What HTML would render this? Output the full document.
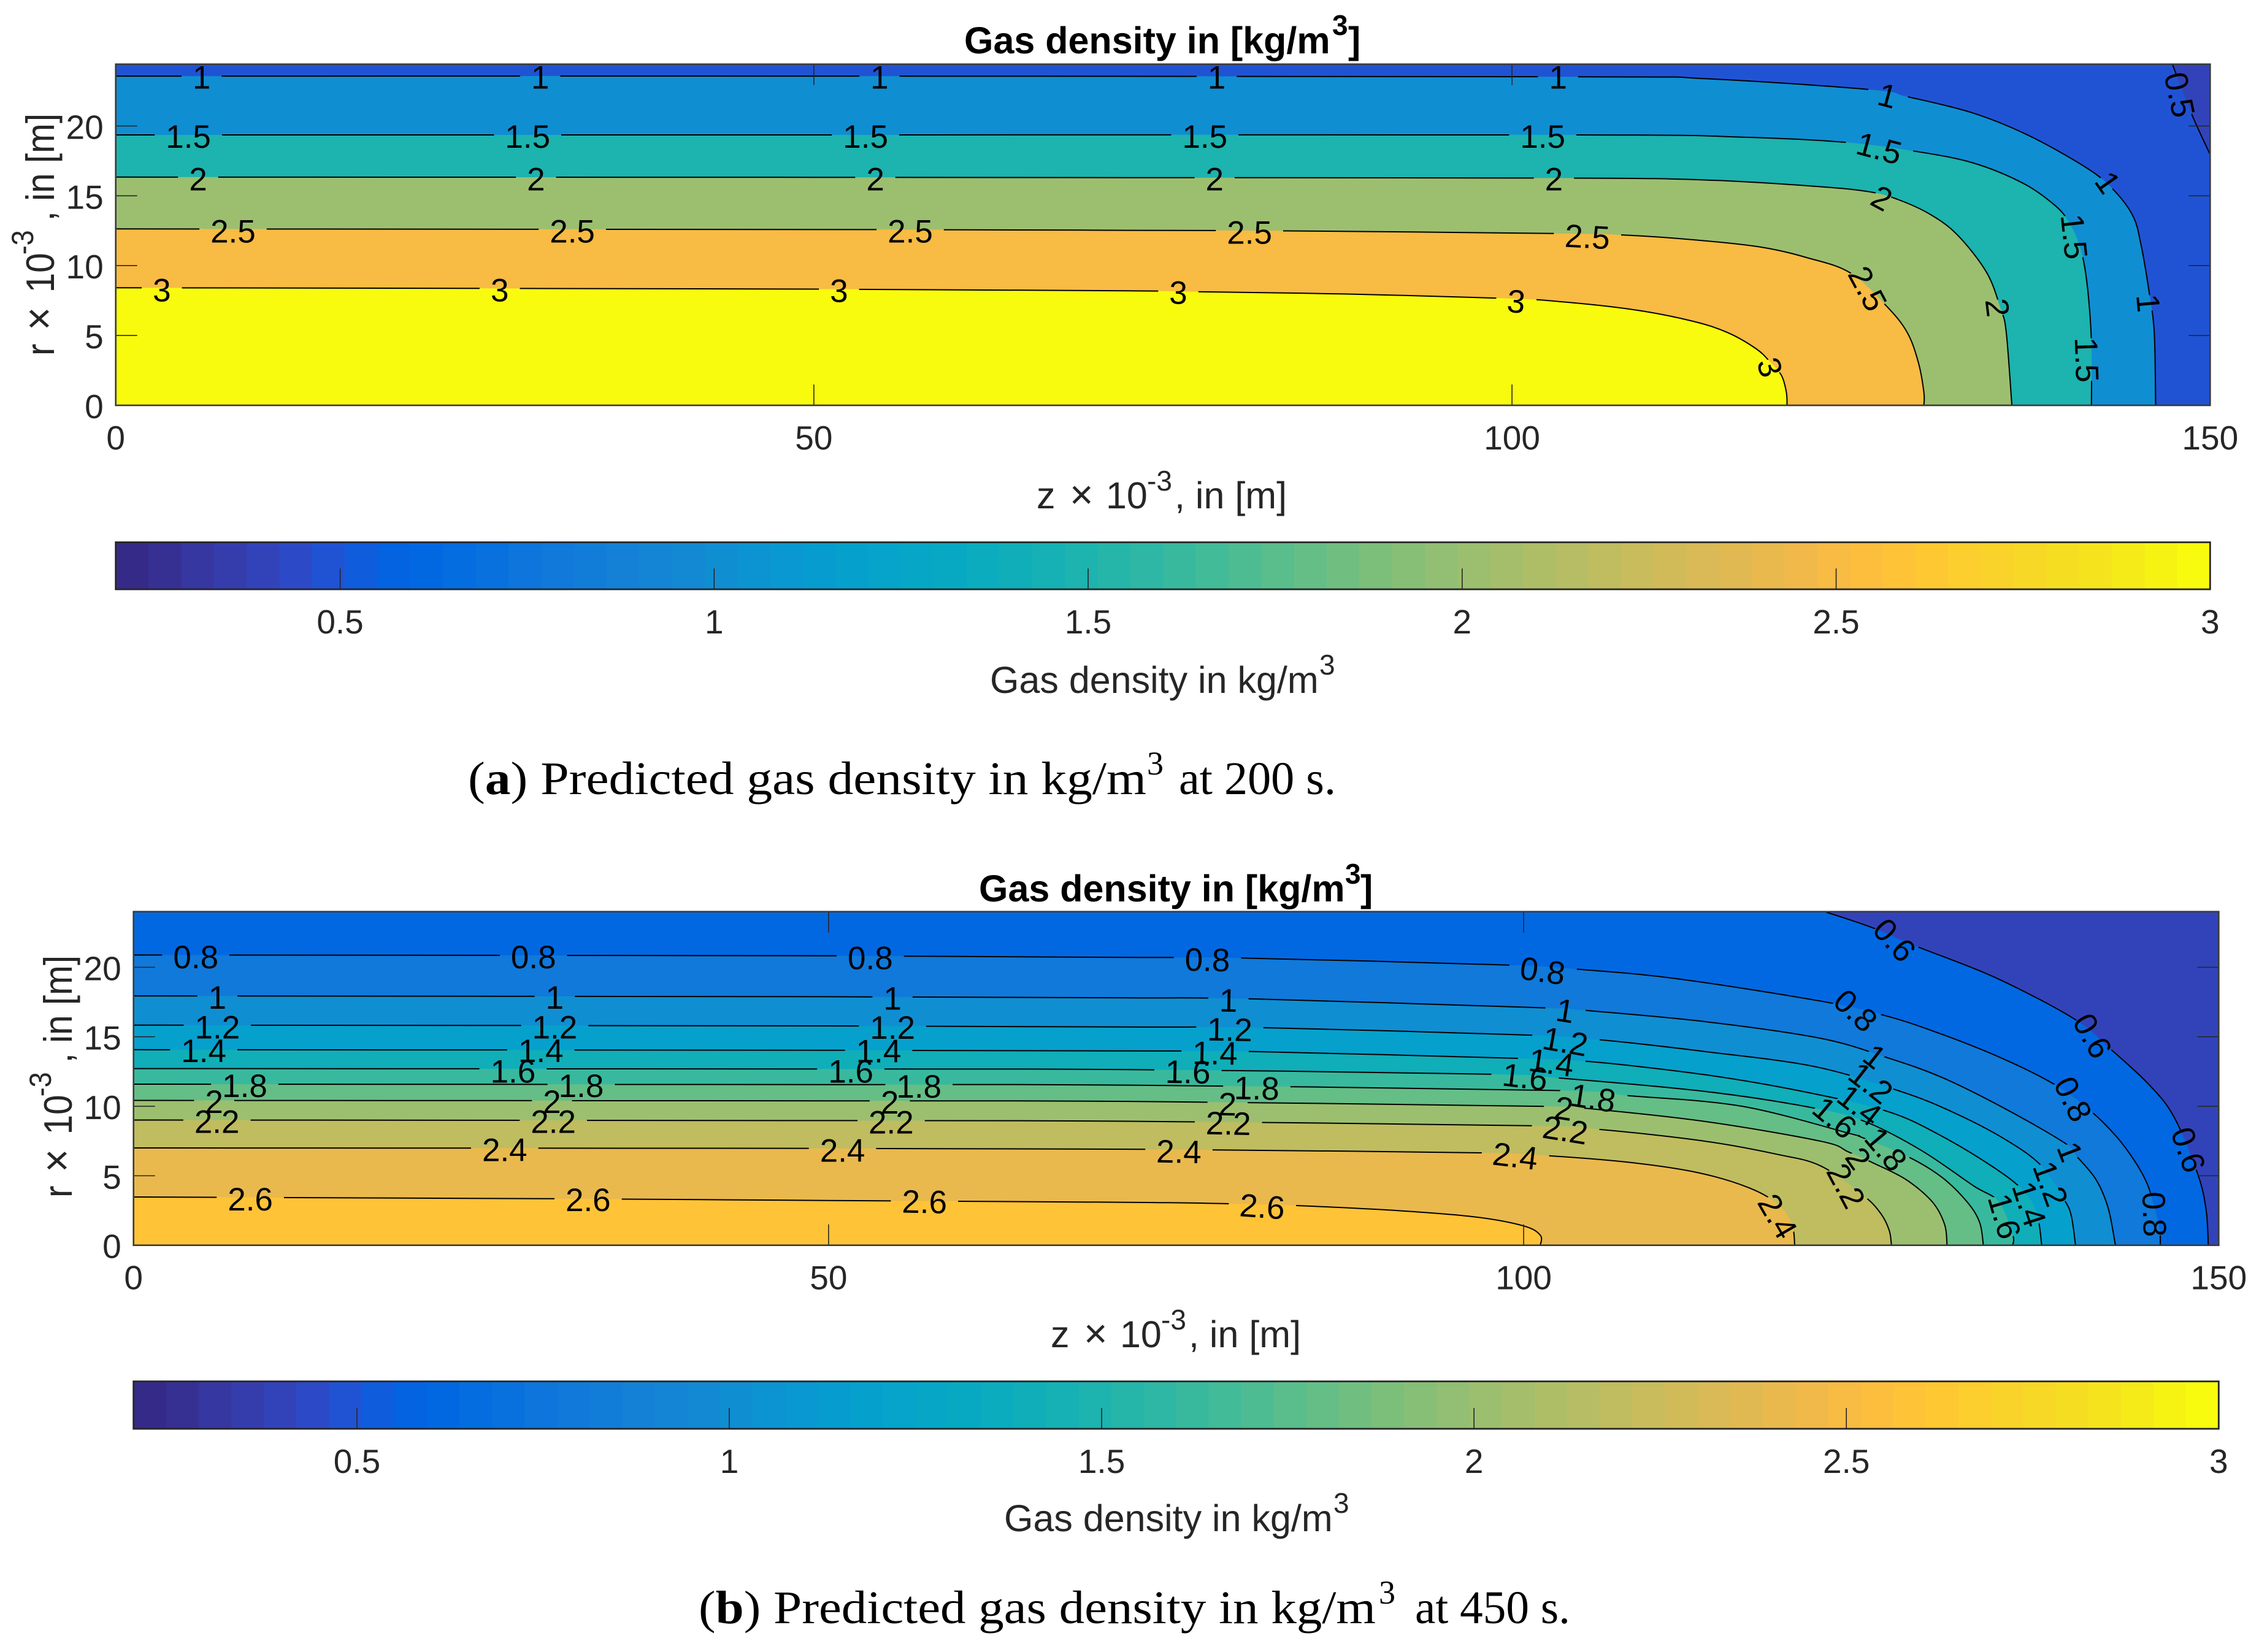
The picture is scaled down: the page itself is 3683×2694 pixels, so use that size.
<!DOCTYPE html>
<html lang="en">
<head>
<meta charset="utf-8">
<title>Gas density contour plots</title>
<style>
html,body{margin:0;padding:0;background:#fff;}
svg{display:block;}
text{font-family:"Liberation Sans",sans-serif;}
.tick{font-size:55px;fill:#262626;}
.lab{font-size:61px;fill:#262626;}
.sup{font-size:46px;fill:#262626;}
.ttl{font-size:61px;font-weight:bold;fill:#000;}
.cap{font-family:"Liberation Serif",serif;font-size:76px;fill:#000;}
.capsup{font-family:"Liberation Serif",serif;font-size:54px;fill:#000;}
.clab{font-size:53px;fill:#000;}
</style>
</head>
<body>
<svg id="fig" xmlns="http://www.w3.org/2000/svg" width="3683" height="2694" viewBox="0 0 3683 2694">
<rect x="0" y="0" width="3683" height="2694" fill="#fff"/>
<defs id="defs"></defs>

<text class="ttl" x="1572" y="87">Gas density in [kg/m<tspan x="2172" y="57" font-size="46">3</tspan><tspan x="2198" y="87">]</tspan></text>
<text class="lab" y="829"><tspan x="1690">z</tspan><tspan x="1744" font-size="66" font-weight="normal">×</tspan><tspan x="1803">10</tspan><tspan x="1870" y="800" font-size="46">-3</tspan><tspan x="1915" y="829">, in [m]</tspan></text>
<g transform="translate(88,580) rotate(-90) scale(.9,1)" fill="#262626" font-size="65">
<text x="0" y="0">r</text><text x="46" y="0" font-size="72">×</text><text x="114" y="0">10</text><text x="183" y="-34" font-size="50">-3</text><text x="244" y="0">, in [m]</text>
</g>
<text class="lab" x="1614" y="1130">Gas density in kg/m<tspan x="2151" y="1100" font-size="46">3</tspan></text>
<text class="cap" x="763" y="1295" textLength="1106" lengthAdjust="spacingAndGlyphs">(<tspan font-weight="bold">a</tspan>) Predicted gas density in kg/m</text>
<text class="capsup" x="1870" y="1263">3</text>
<text class="cap" x="1922" y="1295" textLength="256" lengthAdjust="spacingAndGlyphs">at 200 s.</text>

<text class="ttl" x="1596" y="1470">Gas density in [kg/m<tspan x="2193" y="1441" font-size="46">3</tspan><tspan x="2218" y="1470">]</tspan></text>
<text class="lab" y="2197"><tspan x="1713">z</tspan><tspan x="1767" font-size="66">×</tspan><tspan x="1826">10</tspan><tspan x="1893" y="2168" font-size="46">-3</tspan><tspan x="1938" y="2197">, in [m]</tspan></text>
<g transform="translate(117,1953) rotate(-90) scale(.9,1)" fill="#262626" font-size="65">
<text x="0" y="0">r</text><text x="46" y="0" font-size="72">×</text><text x="114" y="0">10</text><text x="183" y="-34" font-size="50">-3</text><text x="244" y="0">, in [m]</text>
</g>
<text class="lab" x="1637" y="2497">Gas density in kg/m<tspan x="2174" y="2467" font-size="46">3</tspan></text>
<text class="cap" x="1139" y="2647" textLength="1104" lengthAdjust="spacingAndGlyphs">(<tspan font-weight="bold">b</tspan>) Predicted gas density in kg/m</text>
<text class="capsup" x="2248" y="2615">3</text>
<text class="cap" x="2307" y="2647" textLength="253" lengthAdjust="spacingAndGlyphs">at 450 s.</text>
</svg>

<script>
// ---------- shared data ----------
const xTicks = [0, 50, 100, 150];
const yTicks = [0, 5, 10, 15, 20];
const cbTicks = [0.5, 1, 1.5, 2, 2.5, 3];
const cbMin = 0.2;
const cbMax = 3;
const parula64 = [[0.2081,0.1663,0.5292],[0.2116,0.1898,0.5777],[0.2123,0.2138,0.6270],[0.2081,0.2386,0.6771],[0.1959,0.2645,0.7279],[0.1707,0.2919,0.7792],[0.1253,0.3242,0.8303],[0.0591,0.3598,0.8683],[0.0117,0.3875,0.8820],[0.0060,0.4086,0.8828],[0.0165,0.4266,0.8786],[0.0329,0.4430,0.8720],[0.0498,0.4586,0.8641],[0.0629,0.4737,0.8554],[0.0723,0.4887,0.8467],[0.0779,0.5040,0.8384],[0.0793,0.5200,0.8312],[0.0749,0.5375,0.8263],[0.0641,0.5570,0.8240],[0.0488,0.5772,0.8228],[0.0343,0.5966,0.8199],[0.0265,0.6137,0.8135],[0.0239,0.6287,0.8038],[0.0231,0.6418,0.7913],[0.0228,0.6535,0.7768],[0.0267,0.6642,0.7607],[0.0384,0.6743,0.7436],[0.0590,0.6838,0.7254],[0.0843,0.6928,0.7062],[0.1133,0.7015,0.6859],[0.1453,0.7098,0.6646],[0.1801,0.7177,0.6424],[0.2178,0.7250,0.6193],[0.2586,0.7317,0.5954],[0.3022,0.7376,0.5712],[0.3482,0.7424,0.5473],[0.3953,0.7459,0.5244],[0.4420,0.7481,0.5033],[0.4871,0.7491,0.4840],[0.5300,0.7491,0.4661],[0.5709,0.7485,0.4494],[0.6099,0.7473,0.4337],[0.6473,0.7456,0.4188],[0.6834,0.7435,0.4044],[0.7184,0.7411,0.3905],[0.7525,0.7384,0.3768],[0.7858,0.7356,0.3633],[0.8185,0.7327,0.3498],[0.8507,0.7299,0.3360],[0.8824,0.7274,0.3217],[0.9139,0.7258,0.3063],[0.9450,0.7261,0.2886],[0.9739,0.7314,0.2666],[0.9938,0.7455,0.2403],[0.9990,0.7653,0.2164],[0.9955,0.7861,0.1967],[0.9880,0.8066,0.1794],[0.9789,0.8271,0.1633],[0.9697,0.8481,0.1475],[0.9626,0.8705,0.1309],[0.9589,0.8949,0.1132],[0.9598,0.9218,0.0948],[0.9661,0.9514,0.0755],[0.9763,0.9831,0.0538]];

// ---------- panel (a), t = 200 s: contour vertices as [z, r] ----------
const baseLevelA = 0.4;
const levelsA = [0.5, 1, 1.5, 2, 2.5, 3];
const contourA05 = [[147.3,24.42],[148.7,20.8],[150,17.96]];
const contourA10 = [[0,23.57],[50,23.57],[104.6,23.52],[113.9,23.38],[125.7,22.6],[128.3,22.1],[133,20.93],[137.1,19.27],[141.3,16.9],[143.2,15.3],[144.5,13.5],[145.05,11.5],[145.6,8.33],[146,5.23],[146.1,0]];
const contourA15 = [[0,19.36],[50,19.36],[104.8,19.36],[116.4,19.2],[123.7,18.84],[128.8,18.2],[133,17.36],[136.6,15.9],[138.9,14.3],[139.9,13.1],[140.6,11.6],[141,10],[141.3,7.6],[141.5,4.5],[141.5,0]];
const contourA20 = [[0,16.34],[50,16.32],[72.5,16.3],[104,16.27],[113.9,16.13],[122.1,15.65],[125.7,15.27],[127.6,14.75],[129.9,13.7],[131.9,12.2],[134,9.5],[135,6.9],[135.4,5.23],[135.8,0]];
const contourA25 = [[0,12.63],[54.4,12.58],[72.55,12.53],[83.9,12.49],[103,12.3],[108.2,12.18],[113.9,11.77],[118,11.3],[121.1,10.58],[124.2,9.5],[126.8,7.13],[128.3,5.23],[129.1,3.09],[129.5,0.95],[129.5,0]];
const contourA30 = [[0,8.42],[50.5,8.32],[72.55,8.2],[77.5,8.13],[88,7.97],[99.4,7.66],[103.5,7.42],[108.7,6.85],[112.8,6.06],[115.4,5.23],[117.5,4.04],[118.5,3.09],[119.3,2.14],[119.65,0.95],[119.7,0]];
const contoursA = [contourA05, contourA10, contourA15, contourA20, contourA25, contourA30];
// clabel entries: [text, z, r, rotation]
const labelsA = [
["1",6.15,23.5,0],["1",30.4,23.5,0],["1",54.7,23.5,0],["1",78.85,23.5,0],["1",103.3,23.5,0],
["1.5",5.2,19.27,0],["1.5",29.5,19.27,0],["1.5",53.7,19.27,0],["1.5",78,19.27,0],["1.5",102.2,19.27,0],
["2",5.9,16.22,0],["2",30.1,16.22,0],["2",54.4,16.22,0],["2",78.7,16.22,0],["2",103,16.22,0],
["2.5",8.4,12.49,0],["2.5",32.7,12.49,0],["2.5",56.9,12.49,0],["2.5",81.2,12.4,0],["2.5",105.4,12.1,3],
["3",3.3,8.27,0],["3",27.5,8.27,0],["3",51.8,8.23,0],["3",76.1,8.1,1],["3",100.3,7.47,5],
["1",126.9,22.2,15],["1.5",126.3,18.43,15],["2",126.5,14.86,28],["2.5",125.5,8.37,62],["3",118.5,2.73,72],
["2",134.8,7,83],["1.5",140.3,12.08,84],["1.5",141.2,3.26,88],["1",142.7,15.98,55],["1",145.6,7.32,85],["0.5",147.85,22.24,78]
];

// ---------- panel (b), t = 450 s ----------
const baseLevelB = 0.4;
const levelsB = [0.6, 0.8, 1, 1.2, 1.4, 1.6, 1.8, 2, 2.2, 2.4, 2.6];
const contourB06 = [[121.66,24],[125,22.88],[128.4,21.45],[133.84,19.3],[139.55,16.32],[142.2,14.13],[145,11.54],[146.8,9.2],[148.5,5.1],[149.1,2.5],[149.25,0]];
const contourB08 = [[0,20.88],[50,20.83],[71.6,20.71],[79.9,20.66],[98.83,20.16],[104,19.85],[111,19.18],[121.4,17.56],[126.16,16.48],[130.14,15.16],[134.55,13.39],[138.2,11.56],[140.8,9.65],[142.64,7.82],[143.96,6.05],[144.85,4.44],[145.3,3],[145.75,1.2],[145.8,0]];
const contourB10 = [[0,17.94],[50,17.88],[71.6,17.8],[80.2,17.73],[100.9,17.1],[104.3,16.91],[113.1,16.08],[121.4,14.88],[126.24,13.47],[130.1,12.07],[134.55,9.87],[138.9,7.37],[139.77,6.42],[141.17,4.73],[142.05,2.68],[142.57,0]];
const contourB12 = [[0,15.84],[50,15.78],[71.6,15.7],[81.45,15.65],[100.4,15.12],[105.6,14.77],[113.1,13.93],[120.9,12.86],[127.12,11.07],[130.87,9.58],[134.55,7.67],[137.2,5.76],[138.9,3.26],[139.4,2.09],[139.7,0]];
const contourB14 = [[0,14.07],[50,14.03],[71.6,13.98],[80.9,13.93],[99.35,13.45],[104.8,13.21],[113.1,12.26],[120.1,11.06],[126.24,9.61],[130.13,7.82],[133.8,5.61],[135.87,4],[136.9,2.38],[137.27,0]];
const contourB16 = [[0,12.71],[50,12.68],[71.6,12.64],[97.5,12.31],[102.7,12.02],[113.1,11.06],[120.9,9.87],[124.7,8.84],[128.66,6.79],[132.34,4.29],[134.18,3.12],[135.18,0.77],[135.18,0]];
const contourB18 = [[0,11.59],[50,11.56],[71.6,11.52],[102.2,11.14],[107.65,10.75],[115.7,10],[123.5,8.03],[124.25,7.79],[127.7,6.35],[130.1,4.88],[131.9,3.12],[132.8,1.65],[133.07,0]];
const contourB20 = [[0,10.42],[50,10.39],[71.6,10.35],[101.7,9.99],[104.3,9.87],[113.1,8.9],[121.4,7.48],[123.37,6.71],[125.13,5.93],[127.5,4.73],[129.4,3.12],[130.28,1.5],[130.46,0]];
const contourB22 = [[0,9.01],[50,8.97],[71.6,8.92],[100.4,8.6],[105.6,8.32],[113.1,7.48],[118.3,6.53],[121.4,5.69],[124.47,3.56],[125.72,2.24],[126.3,1.06],[126.46,0]];
const contourB24 = [[0,7],[50,6.97],[71.6,6.91],[77.8,6.86],[97,6.65],[102.2,6.41],[107.9,5.93],[112.6,5.21],[116.2,4.14],[118.3,2.95],[119.3,1.51],[119.5,0]];
const contourB26 = [[0,3.47],[30,3.35],[50,3.22],[71.6,3.09],[78.6,2.99],[83.8,2.85],[91.3,2.47],[96.5,2.04],[100,1.39],[101.2,0.72],[101.2,0]];
const contoursB = [contourB06, contourB08, contourB10, contourB12, contourB14, contourB16, contourB18, contourB20, contourB22, contourB24, contourB26];
const labelsB = [
["0.8",4.48,20.78,0],["0.8",28.77,20.78,0],["0.8",53,20.71,0],["0.8",77.25,20.57,1],["0.8",101.37,19.78,8],
["1",6.03,17.85,0],["1",30.3,17.85,0],["1",54.6,17.8,0],["1",78.76,17.65,1],["1",103,16.9,9],
["1.2",6.03,15.72,0],["1.2",30.3,15.72,0],["1.2",54.6,15.7,0],["1.2",78.86,15.55,1],["1.2",103,14.69,10],
["1.4",5.05,14.02,0],["1.4",29.3,14.02,0],["1.4",53.6,14,0],["1.4",77.8,13.86,1],["1.4",102,13.17,8],
["1.6",27.3,12.54,0],["1.6",51.6,12.54,0],["1.6",75.85,12.5,1],["1.6",100.1,12.14,7],
["1.8",8,11.5,0],["1.8",32.2,11.5,0],["1.8",56.5,11.47,0],["1.8",80.8,11.33,1],["1.8",105,10.63,9],
["2",5.8,10.35,0],["2",30.1,10.35,0],["2",54.4,10.32,0],["2",78.7,10.18,1],["2",102.9,9.87,9],
["2.2",6,8.92,0],["2.2",30.2,8.92,0],["2.2",54.5,8.87,0],["2.2",78.76,8.8,1],["2.2",103,8.32,9],
["2.4",26.7,6.89,0],["2.4",51,6.84,0],["2.4",75.2,6.77,1],["2.4",99.4,6.45,7],
["2.6",8.4,3.35,0],["2.6",32.7,3.3,0],["2.6",56.9,3.16,1],["2.6",81.2,2.82,4],
["0.6",126.7,21.98,48],["0.6",140.95,15.08,61],["0.6",147.85,6.88,71],
["0.8",123.9,16.91,43],["0.8",139.55,10.53,64],["0.8",145.4,2.23,88],
["1",125.28,13.61,38],["1",139.33,6.74,69],
["1.2",124.99,11.7,38],["1.2",137.93,4.44,70],
["1.4",124.18,10.09,38],["1.4",136.4,2.97,72],
["1.6",122.4,9.2,40],["1.6",134.62,2.09,74],
["1.8",126.09,6.93,50],["2",124.1,6.27,55],["2.2",123.22,4.29,62],["2.4",118.3,2.1,60]
];

// ---------- drawing ----------
const NS = "http://www.w3.org/2000/svg";
const fig = document.getElementById("fig");
const defs = document.getElementById("defs");

function make(tag, attrs, parent) {
  const node = document.createElementNS(NS, tag);
  for (const k in attrs) node.setAttribute(k, attrs[k]);
  parent.appendChild(node);
  return node;
}
function toHex(c) {
  return "rgb(" + c.map(v => Math.round(v * 255)).join(",") + ")";
}
function colourFor(level) {
  const i = Math.min(63, Math.max(0, Math.floor((level - cbMin) / (cbMax - cbMin) * 64)));
  return toHex(parula64[i]);
}
// smooth path through points (Catmull-Rom), in pixel space
function smooth(px) {
  let d = "M" + px[0][0].toFixed(1) + " " + px[0][1].toFixed(1);
  for (let i = 0; i < px.length - 1; i++) {
    const p0 = px[Math.max(0, i - 1)], p1 = px[i], p2 = px[i + 1], p3 = px[Math.min(px.length - 1, i + 2)];
    const c1 = [p1[0] + (p2[0] - p0[0]) / 6, p1[1] + (p2[1] - p0[1]) / 6];
    const c2 = [p2[0] - (p3[0] - p1[0]) / 6, p2[1] - (p3[1] - p1[1]) / 6];
    d += "C" + c1[0].toFixed(1) + " " + c1[1].toFixed(1) + " " + c2[0].toFixed(1) + " " + c2[1].toFixed(1) + " " + p2[0].toFixed(1) + " " + p2[1].toFixed(1);
  }
  return d;
}
function labelWidth(t) {
  let w = 0;
  for (const ch of t) w += ch === "." ? 0.278 : 0.556;
  return w * 53;
}

function drawPanel(id, geo, base, levels, contours, labels) {
  const x = z => geo.left + z * (geo.right - geo.left) / geo.zMax;
  const y = r => geo.bottom - r * (geo.bottom - geo.top) / geo.rMax;

  const clip = make("clipPath", { id: "clip-" + id }, defs);
  make("rect", { x: geo.left, y: geo.top, width: geo.right - geo.left, height: geo.bottom - geo.top }, clip);

  const g = make("g", { "clip-path": "url(#clip-" + id + ")" }, fig);
  
  

  const bg = make("rect", { x: geo.left, y: geo.top, width: geo.right - geo.left, height: geo.bottom - geo.top, fill: colourFor(base) }, g);
  
  

  contours.forEach((pts, i) => {
    const px = pts.map(p => [x(p[0]), y(p[1])]);
    const end = pts[pts.length - 1], start = pts[0];
    let d = smooth(px) + "L" + x(end[0]) + " " + y(0) + "L" + x(0) + " " + y(0);
    if (start[0] > 0) d += "L" + x(0) + " " + y(geo.rMax);
    d += "Z";
    const band = make("path", { d: d, fill: colourFor(levels[i]) }, g);
    
    
  });

  contours.forEach((pts, i) => {
    const level = levels[i];
    const maskId = "mask-" + id + "-" + i;
    const mask = make("mask", { id: maskId, maskUnits: "userSpaceOnUse", x: 0, y: 0, width: 3683, height: 2694 }, defs);
    make("rect", { x: 0, y: 0, width: 3683, height: 2694, fill: "#fff" }, mask);
    labels.filter(l => parseFloat(l[0]) === level).forEach(l => {
      const cx = x(l[1]), cy = y(l[2]);
      const w = labelWidth(l[0]) + (l[3] > 20 ? -4 : 36);
      make("rect", { x: cx - w / 2, y: cy - 30, width: w, height: 60, fill: "#000", transform: "rotate(" + l[3] + " " + cx + " " + cy + ")" }, mask);
    });
    const line = make("path", { d: smooth(pts.map(p => [x(p[0]), y(p[1])])), fill: "none", stroke: "#000", "stroke-width": 2, mask: "url(#" + maskId + ")" }, g);
    
    
  });

  // axis box and ticks
  const ax = make("g", { stroke: "#262626", "stroke-width": 1.6, fill: "none" }, fig);
  
  
  xTicks.forEach(v => {
    const t1 = make("line", { x1: x(v), x2: x(v), y1: geo.bottom, y2: geo.bottom - 34 }, ax);
    
    
    const t2 = make("line", { x1: x(v), x2: x(v), y1: geo.top, y2: geo.top + 34 }, ax);
    
    
    const lab = make("text", { class: "tick", x: x(v), y: geo.bottom + 72, "text-anchor": "middle", fill: "#262626", stroke: "none" }, fig);
    lab.textContent = String(v);
    
    
  });
  yTicks.forEach(v => {
    const t1 = make("line", { x1: geo.left, x2: geo.left + 35, y1: y(v), y2: y(v) }, ax);
    
    
    const t2 = make("line", { x1: geo.right, x2: geo.right - 35, y1: y(v), y2: y(v) }, ax);
    
    
    const lab = make("text", { class: "tick", x: geo.left - 20, y: y(v) + 21, "text-anchor": "end" }, fig);
    lab.textContent = String(v);
    
    
  });
  const box = make("rect", { x: geo.left, y: geo.top, width: geo.right - geo.left, height: geo.bottom - geo.top, "stroke-width": 2.6, stroke: "#3a3a3a" }, ax);
  
  

  labels.forEach(l => {
    const cx = x(l[1]), cy = y(l[2]);
    const t = make("text", { class: "clab", x: cx, y: cy, dy: "0.36em", "text-anchor": "middle", transform: "rotate(" + l[3] + " " + cx + " " + cy + ")" }, fig);
    t.textContent = l[0];
    
    
  });
}

function drawColorbar(id, geo) {
  const x = v => geo.left + (v - cbMin) * (geo.right - geo.left) / (cbMax - cbMin);
  const g = make("g", {}, fig);
  
  
  const step = (cbMax - cbMin) / parula64.length;
  parula64.forEach((c, i) => {
    const r = make("rect", { x: x(cbMin + i * step), y: geo.top, width: x(cbMin + (i + 1) * step) - x(cbMin + i * step) + 0.6, height: geo.bottom - geo.top, fill: toHex(c) }, g);
    
    
  });
  cbTicks.forEach(v => {
    const t = make("line", { x1: x(v), x2: x(v), y1: geo.bottom, y2: geo.bottom - 34, stroke: "#262626", "stroke-width": 1.6 }, g);
    
    
    const lab = make("text", { class: "tick", x: x(v), y: geo.bottom + 72, "text-anchor": "middle" }, g);
    lab.textContent = String(v);
    
    
  });
  const box = make("rect", { x: geo.left, y: geo.top, width: geo.right - geo.left, height: geo.bottom - geo.top, fill: "none", stroke: "#262626", "stroke-width": 2.8 }, g);
  
  
}

drawPanel("a", { left: 188.7, right: 3603.3, top: 104.7, bottom: 661, zMax: 150, rMax: 24.42 }, baseLevelA, levelsA, contoursA, labelsA);
drawPanel("b", { left: 217.7, right: 3617.3, top: 1486.7, bottom: 2030.7, zMax: 150, rMax: 24 }, baseLevelB, levelsB, contoursB, labelsB);
drawColorbar("a", { left: 188.7, right: 3603.3, top: 884.3, bottom: 961 });
drawColorbar("b", { left: 217.7, right: 3617.3, top: 2252.7, bottom: 2330 });
</script>
</body>
</html>
